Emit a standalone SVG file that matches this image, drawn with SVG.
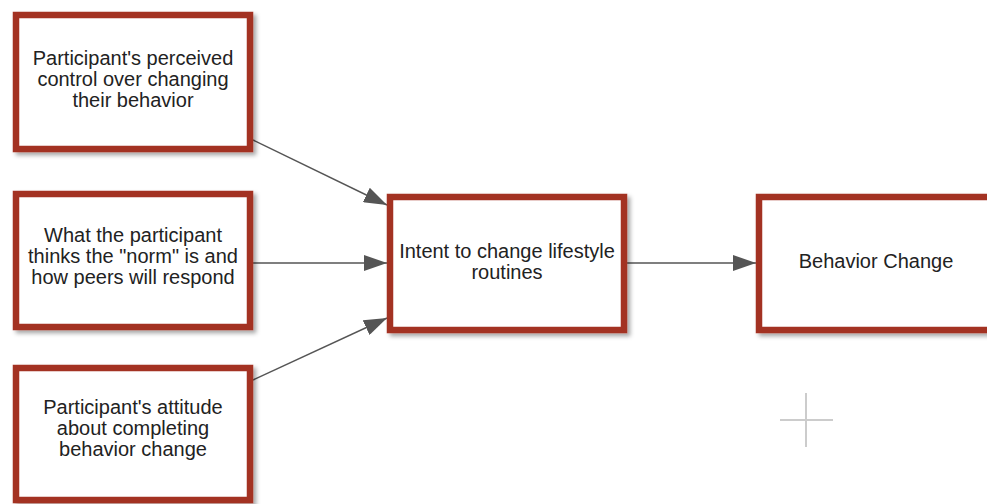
<svg xmlns="http://www.w3.org/2000/svg" width="987" height="504" viewBox="0 0 987 504">
  <defs>
    <filter id="shadow" x="-10%" y="-10%" width="130%" height="130%">
      <feDropShadow dx="3" dy="3" stdDeviation="2" flood-color="#000" flood-opacity="0.35"/>
    </filter>
    <marker id="arrow" viewBox="0 0 23 16" refX="23" refY="8" markerWidth="23" markerHeight="16" markerUnits="userSpaceOnUse" orient="auto">
      <path d="M0,0 L23,8 L0,16 Z" fill="#555"/>
    </marker>
  </defs>
  <style>
    .box { fill: #fff; stroke: #a33024; stroke-width: 6.5; filter: url(#shadow); }
    .label { font-family: "Liberation Sans", Arial, Helvetica, sans-serif; font-size: 20px; fill: #222; text-anchor: middle; }
    .edge { stroke: #555; stroke-width: 1.5; fill: none; marker-end: url(#arrow); }
    .cross { stroke: #ccc; stroke-width: 2; }
  </style>
  <rect width="987" height="504" fill="#fff"/>

  <g id="connectors">
    <line class="edge" x1="253" y1="140" x2="387" y2="205"/>
    <line class="edge" x1="253" y1="263" x2="387" y2="263"/>
    <line class="edge" x1="253" y1="380" x2="387" y2="318"/>
    <line class="edge" x1="627" y1="263" x2="756" y2="263"/>
  </g>

  <g id="perceived-control">
    <rect class="box" x="16" y="15" width="234" height="134"/>
    <text class="label" x="133" y="65">Participant's perceived</text>
    <text class="label" x="133" y="86">control over changing</text>
    <text class="label" x="133" y="107">their behavior</text>
  </g>

  <g id="social-norm">
    <rect class="box" x="16" y="194" width="234" height="133"/>
    <text class="label" x="133" y="242">What the participant</text>
    <text class="label" x="133" y="263">thinks the "norm" is and</text>
    <text class="label" x="133" y="284">how peers will respond</text>
  </g>

  <g id="attitude">
    <rect class="box" x="16" y="368" width="234" height="132"/>
    <text class="label" x="133" y="414">Participant's attitude</text>
    <text class="label" x="133" y="435">about completing</text>
    <text class="label" x="133" y="456">behavior change</text>
  </g>

  <g id="intent">
    <rect class="box" x="390" y="197" width="234" height="133"/>
    <text class="label" x="507" y="258">Intent to change lifestyle</text>
    <text class="label" x="507" y="279">routines</text>
  </g>

  <g id="behavior-change">
    <rect class="box" x="759" y="197" width="234" height="133"/>
    <text class="label" x="876" y="268">Behavior Change</text>
  </g>

  <g id="crosshair">
    <line class="cross" x1="780" y1="420" x2="833" y2="420"/>
    <line class="cross" x1="806" y1="393" x2="806" y2="447"/>
  </g>
</svg>
